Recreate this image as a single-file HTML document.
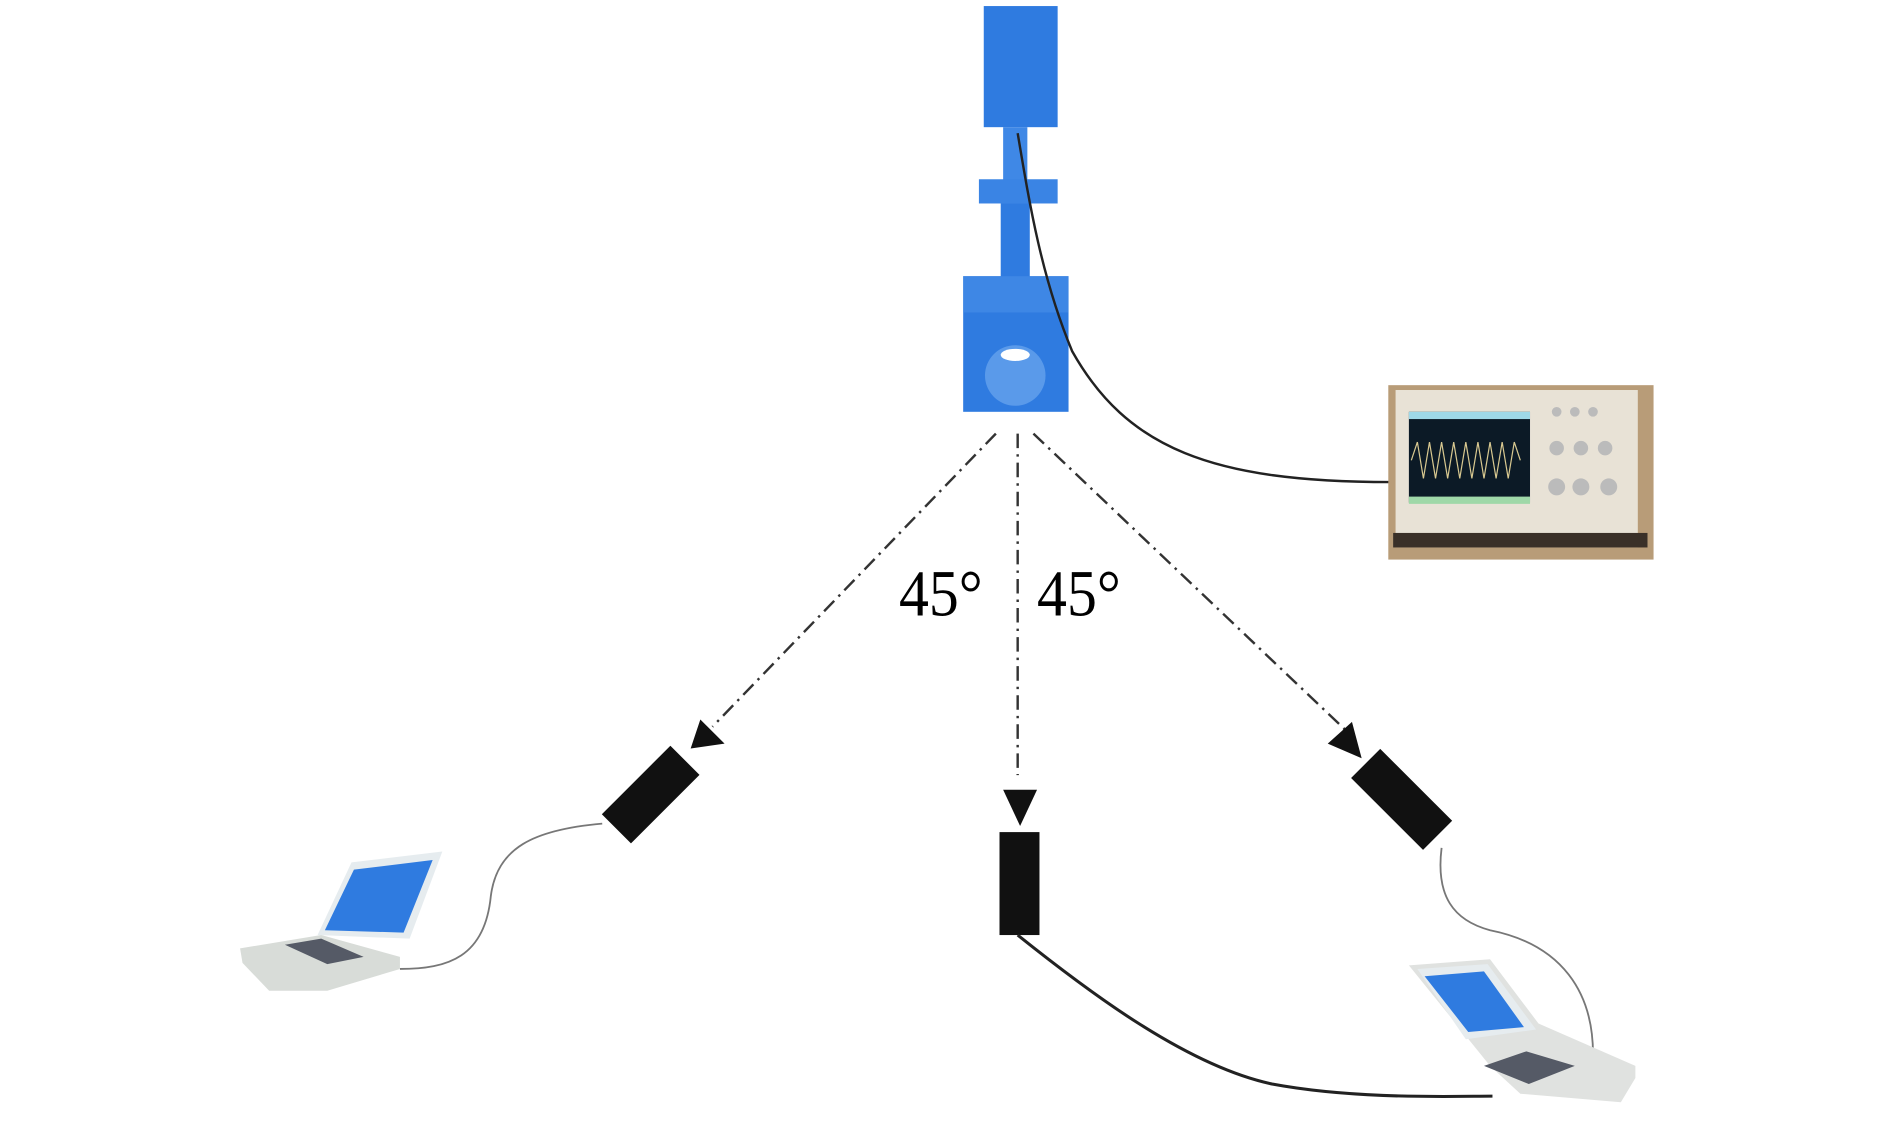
<!DOCTYPE html>
<html><head><meta charset="utf-8"><style>
html,body{margin:0;padding:0;background:#fff;}
svg{display:block;}
</style></head><body>
<svg width="1890" height="1124" viewBox="0 0 1560 928" xmlns="http://www.w3.org/2000/svg">
<rect width="1560" height="928" fill="#fff"/>
<!-- tower -->
<rect x="812" y="5" width="61" height="100" fill="#2f7be0"/>
<rect x="828" y="105" width="20" height="45" fill="#3f88e6"/>
<rect x="808" y="148" width="65" height="20" fill="#3a84e4"/>
<rect x="826" y="168" width="24" height="62" fill="#2f7be0"/>
<rect x="795" y="228" width="87" height="112" fill="#2f7be0"/>
<rect x="795" y="228" width="87" height="30" fill="#4a8fe8" opacity="0.6"/>
<ellipse cx="838" cy="310" rx="25" ry="25" fill="#5a9aea"/>
<ellipse cx="838" cy="293" rx="12" ry="5" fill="#fff"/>
<!-- cable to scope -->
<path d="M840 110 C850 170 860 230 885 290 C930 370 1000 398 1148 398" fill="none" stroke="#222" stroke-width="2"/>
<!-- oscilloscope -->
<rect x="1146" y="318" width="219" height="144" fill="#b89c78"/>
<rect x="1152" y="322" width="200" height="130" fill="#e8e2d6"/>
<rect x="1163" y="340" width="100" height="75" fill="#0c1a26"/>
<rect x="1163" y="340" width="100" height="6" fill="#9fd8e8"/>
<rect x="1163" y="410" width="100" height="6" fill="#9fd8a8"/>
<path d="M1165 380 l5 -15 l5 30 l5 -30 l5 30 l5 -30 l5 30 l5 -30 l5 30 l5 -30 l5 30 l5 -30 l5 30 l5 -30 l5 30 l5 -30 l5 30 l5 -30 l5 15" fill="none" stroke="#d8c890" stroke-width="1"/>
<g fill="#bbb"><circle cx="1285" cy="370" r="6"/><circle cx="1305" cy="370" r="6"/><circle cx="1325" cy="370" r="6"/><circle cx="1285" cy="402" r="7"/><circle cx="1305" cy="402" r="7"/><circle cx="1328" cy="402" r="7"/><circle cx="1285" cy="340" r="4"/><circle cx="1300" cy="340" r="4"/><circle cx="1315" cy="340" r="4"/></g>
<rect x="1150" y="440" width="210" height="12" fill="#3a3028"/>
<!-- dashed lines -->
<g stroke="#333" stroke-width="2" stroke-dasharray="12 5 2 5" fill="none">
<line x1="822" y1="358" x2="588" y2="600"/>
<line x1="840" y1="358" x2="840" y2="640"/>
<line x1="853" y1="358" x2="1112" y2="604"/>
</g>
<g fill="#111">
<polygon points="570,618 598,614 578,594"/>
<polygon points="828,652 856,652 842,682"/>
<polygon points="1124,626 1116,596 1096,614"/>
</g>
<!-- sensors -->
<rect x="-17" y="-40" width="34" height="80" fill="#111" transform="translate(537 656) rotate(45)"/>
<rect x="825" y="687" width="33" height="85" fill="#111"/>
<rect x="-17" y="-42" width="34" height="84" fill="#111" transform="translate(1157 660) rotate(-45)"/>
<!-- text -->
<text x="742" y="508" font-family="Liberation Serif, serif" font-size="52" transform="translate(742 508) scale(0.95 1.05) translate(-742 -508)">45°</text>
<text x="856" y="508" font-family="Liberation Serif, serif" font-size="52" transform="translate(856 508) scale(0.95 1.05) translate(-856 -508)">45°</text>
<!-- cables -->
<path d="M497 680 C440 685 410 700 405 740 C400 790 370 800 330 800" fill="none" stroke="#777" stroke-width="1.5"/>
<path d="M840 772 C900 820 980 880 1050 895 C1120 908 1200 905 1232 905" fill="none" stroke="#222" stroke-width="2.5"/>
<path d="M1190 700 C1185 740 1200 760 1230 768 C1290 780 1315 820 1315 870" fill="none" stroke="#777" stroke-width="1.5"/>
<!-- left laptop -->
<polygon points="198,783 265,772 330,790 330,800 270,818 222,818 200,795" fill="#d8dcd8"/>
<polygon points="235,780 265,775 300,790 270,796" fill="#555a66"/>
<polygon points="262,772 290,712 365,703 338,775" fill="#e6ecef"/>
<polygon points="268,768 292,718 357,710 333,770" fill="#2f7be0"/>
<!-- right laptop -->
<polygon points="1163,797 1230,792 1270,845 1350,880 1350,890 1338,910 1255,903 1230,880" fill="#e0e2e0"/>
<polygon points="1170,800 1228,796 1268,850 1210,858" fill="#e6ecef"/>
<polygon points="1176,806 1225,802 1258,848 1212,852" fill="#2f7be0"/>
<polygon points="1225,880 1260,868 1300,880 1262,895" fill="#555a66"/>
</svg>
</body></html>
